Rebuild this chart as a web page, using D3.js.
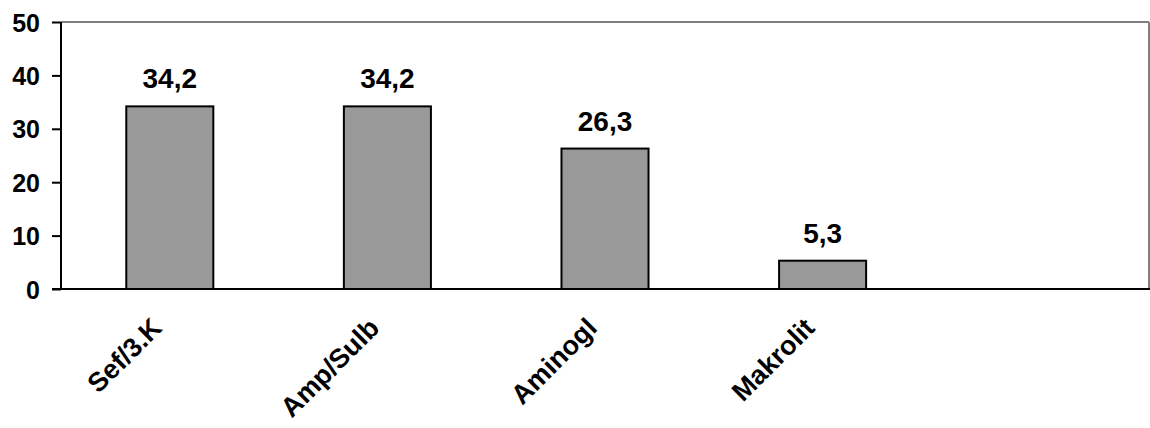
<!DOCTYPE html>
<html>
<head>
<meta charset="utf-8">
<script src="https://cdn.jsdelivr.net/npm/d3@7"></script>
<style>
  html, body { margin: 0; padding: 0; background: #fff; }
  svg { display: block; }
  text { font-family: Arial, "Liberation Sans", sans-serif; font-weight: bold; fill: #000; }
</style>
</head>
<body>
<svg id="chart" width="1150" height="428"></svg>
<script>
// Antibiotic groups (last slot left empty) and their percentages
const categories = ["Sef/3.K", "Amp/Sulb", "Aminogl", "Makrolit", ""];
const values = [34.2, 34.2, 26.3, 5.3, null];
const valueLabels = ["34,2", "34,2", "26,3", "5,3", ""];
const yTicks = [0, 10, 20, 30, 40, 50];

const W = 1150, H = 428;
const plot = { left: 61, right: 1149, top: 22, bottom: 289 };

const svg = d3.select("#chart");

const x = d3.scaleBand()
  .domain(categories.map((c, i) => i))
  .range([plot.left, plot.right])
  .paddingInner(0.6)
  .paddingOuter(0.3);

const y = d3.scaleLinear()
  .domain([0, 50])
  .range([plot.bottom, plot.top]);

// grey frame on top and right of plot area
svg.append("line")
  .attr("x1", plot.left).attr("x2", plot.right)
  .attr("y1", plot.top).attr("y2", plot.top)
  .attr("stroke", "#808080").attr("stroke-width", 2);
svg.append("line")
  .attr("x1", plot.right).attr("x2", plot.right)
  .attr("y1", plot.top).attr("y2", plot.bottom)
  .attr("stroke", "#808080").attr("stroke-width", 2);

// bars
const data = categories.map((c, i) => ({ i, c, v: values[i], lbl: valueLabels[i] }))
  .filter(d => d.v != null);

svg.append("g").selectAll("rect")
  .data(data)
  .join("rect")
  .attr("x", d => x(d.i))
  .attr("width", x.bandwidth())
  .attr("y", d => y(d.v))
  .attr("height", d => y(0) - y(d.v))
  .attr("fill", "#999999")
  .attr("stroke", "#000")
  .attr("stroke-width", 2);

// value labels
svg.append("g").selectAll("text")
  .data(data)
  .join("text")
  .attr("x", d => x(d.i) + x.bandwidth() / 2)
  .attr("y", d => y(d.v) - 18)
  .attr("text-anchor", "middle")
  .attr("font-size", 28)
  .text(d => d.lbl);

// y axis
const yAxis = svg.append("g")
  .attr("transform", `translate(${plot.left},0)`)
  .call(d3.axisLeft(y).tickValues(yTicks).tickSize(9).tickPadding(12).tickFormat(d3.format("d")));
yAxis.select(".domain").attr("stroke", "#000").attr("stroke-width", 2);
yAxis.selectAll(".tick line").attr("stroke", "#000").attr("stroke-width", 2);
yAxis.selectAll(".tick text")
  .attr("font-size", 25)
  .attr("font-family", "Arial, 'Liberation Sans', sans-serif")
  .attr("font-weight", "bold")
  .attr("fill", "#000")
  .attr("dy", "0.36em");
yAxis.select(".domain").attr("d", `M0,${plot.top}V${plot.bottom}`);

// x axis line
const xAxis = svg.append("g")
  .attr("transform", `translate(0,${plot.bottom})`)
  .call(d3.axisBottom(x).tickSize(0).tickFormat(i => categories[i]));
xAxis.select(".domain")
  .attr("d", `M${plot.left - 9},0H${plot.right + 1}`)
  .attr("stroke", "#000").attr("stroke-width", 2);
xAxis.selectAll(".tick text")
  .attr("font-size", 27)
  .attr("font-family", "Arial, 'Liberation Sans', sans-serif")
  .attr("font-weight", "bold")
  .attr("fill", "#000")
  .attr("text-anchor", "end")
  .attr("x", 0).attr("y", 0).attr("dy", "0.71em")
  .attr("transform", "translate(-20,27) rotate(-45)");
</script>
</body>
</html>
